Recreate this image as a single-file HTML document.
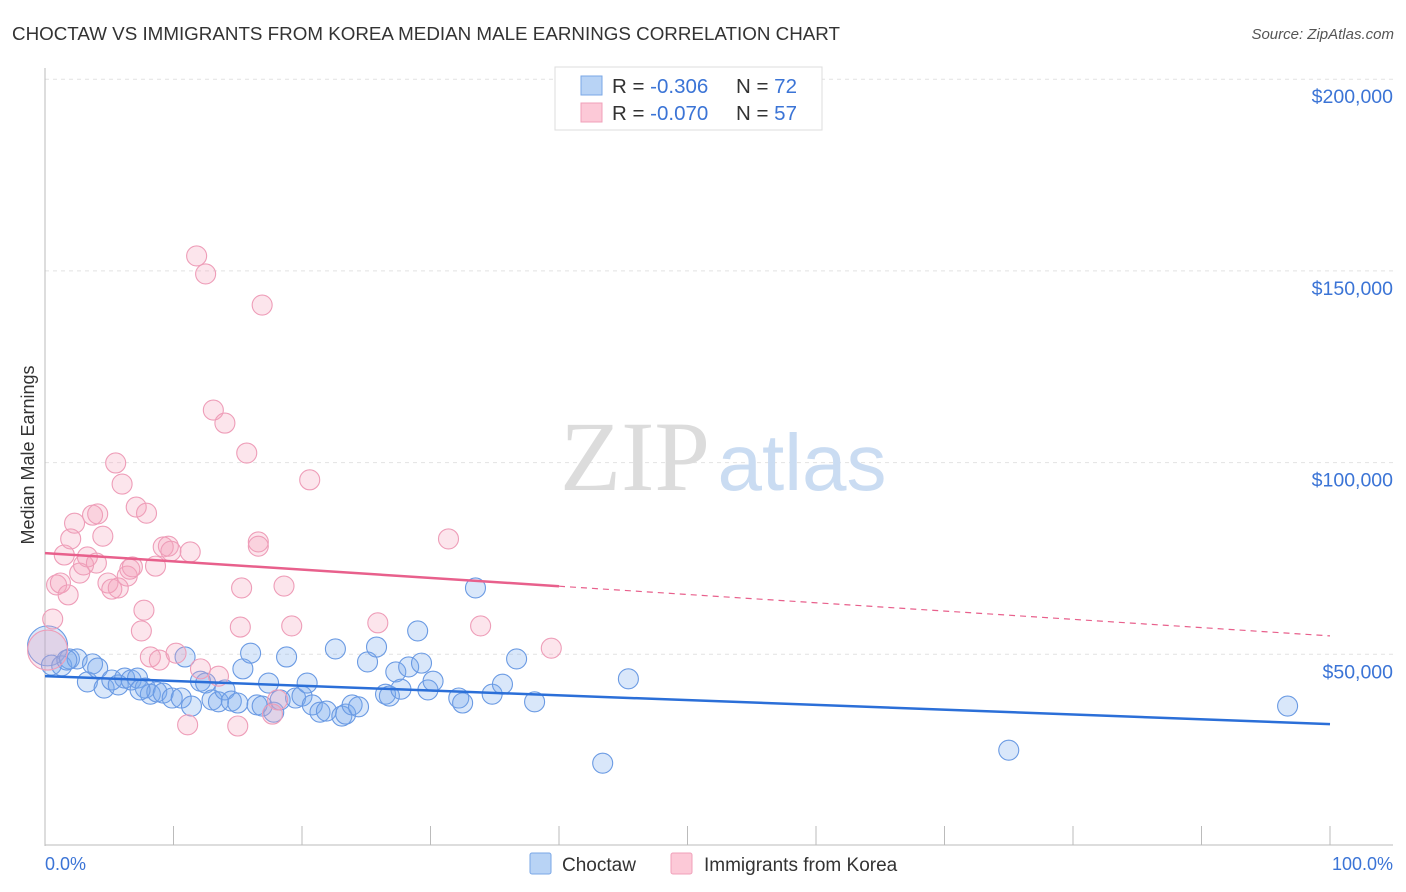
<!DOCTYPE html>
<html><head><meta charset="utf-8"><style>
body{margin:0;background:#fff;font-family:"Liberation Sans",sans-serif;}
svg{display:block}
</style></head><body>
<svg id="chart" width="1406" height="892">
<text x="12" y="40" font-size="18" fill="#333" textLength="828" lengthAdjust="spacingAndGlyphs">CHOCTAW VS IMMIGRANTS FROM KOREA MEDIAN MALE EARNINGS CORRELATION CHART</text>
<text x="1394" y="39" font-size="15" fill="#555" text-anchor="end" font-style="italic">Source: ZipAtlas.com</text>
<g id="grid"></g>
<text x="635" y="490" font-size="100" fill="#dcdcdc" text-anchor="middle" font-family="Liberation Serif,serif">ZIP</text>
<text x="802" y="490" font-size="80" fill="#cadcf2" text-anchor="middle">atlas</text>
<g id="axes"></g>
<g id="pts"></g>
<g id="trend"></g>
<text transform="translate(34,455) rotate(-90)" font-size="18" fill="#333" text-anchor="middle">Median Male Earnings</text>
<g>
<rect x="555" y="67" width="267" height="63" fill="#fff" stroke="#ddd"/>
<rect x="581" y="76" width="21" height="19" fill="#b8d3f5" stroke="#7aa7e6"/>
<rect x="581" y="103" width="21" height="19" fill="#fcc9d7" stroke="#f0a0ba"/>
<text x="612" y="93" font-size="20.5" fill="#333">R = <tspan fill="#3b74d6">-0.306</tspan></text>
<text x="736" y="93" font-size="20.5" fill="#333">N = <tspan fill="#3b74d6">72</tspan></text>
<text x="612" y="120" font-size="20.5" fill="#333">R = <tspan fill="#3b74d6">-0.070</tspan></text>
<text x="736" y="120" font-size="20.5" fill="#333">N = <tspan fill="#3b74d6">57</tspan></text>
</g>
<g>
<rect x="530" y="853" width="21" height="21" fill="#b8d3f5" stroke="#7aa7e6" rx="2"/>
<text x="562" y="871" font-size="19" fill="#333">Choctaw</text>
<rect x="671" y="853" width="21" height="21" fill="#fcc9d7" stroke="#f0a0ba" rx="2"/>
<text x="704" y="871" font-size="19" fill="#333">Immigrants from Korea</text>
</g>
<text x="45" y="870" font-size="18" fill="#3b74d6">0.0%</text>
<text x="1393" y="870" font-size="18" fill="#3b74d6" text-anchor="end">100.0%</text>
</svg>
<script>
const yTicks=[50000,100000,150000,200000];
const yTickLabels=["$50,000","$100,000","$150,000","$200,000"];
const xTicks=[0,10,20,30,40,50,60,70,80,90,100];
const choctawX=[0.2,0.5,1.3,1.9,2.5,3.3,3.7,4.1,4.6,5.2,5.7,6.2,6.7,7.2,7.8,8.2,8.7,9.2,9.9,10.6,10.9,11.4,12.1,12.5,13.0,13.5,14.0,14.5,15.0,15.4,16.0,16.5,16.9,17.4,17.8,18.3,18.8,19.5,20.0,20.4,20.8,21.4,21.9,22.6,23.1,23.4,23.9,24.4,25.1,25.8,26.5,26.8,27.3,27.7,28.3,29.0,29.3,29.8,30.2,32.2,32.5,33.5,34.8,35.6,36.7,38.1,43.4,45.4,75.0,96.7,1.7,7.4];
const choctawY=[52.2,47.2,47.0,48.8,48.8,42.8,47.5,46.4,41.2,43.3,42.0,43.8,43.3,43.8,41.2,39.6,40.2,39.9,38.6,38.6,49.3,36.5,43.0,42.5,38.1,37.6,40.7,37.8,37.3,46.2,50.3,36.8,36.5,42.5,34.9,38.1,49.3,38.6,39.1,42.5,36.8,34.9,35.2,51.4,33.9,34.4,36.8,36.3,48.0,51.9,39.6,39.1,45.4,40.9,46.7,56.1,47.7,40.7,43.0,38.6,37.3,67.3,39.6,42.2,48.8,37.6,21.6,43.6,25.0,36.5,48.5,40.7];
const koreaX=[0.2,0.6,0.9,1.2,1.5,1.8,2.0,2.3,2.7,3.0,3.3,3.7,4.0,4.1,4.5,4.9,5.2,5.5,5.7,6.0,6.4,6.6,6.8,7.1,7.5,7.7,7.9,8.2,8.6,8.9,9.2,9.6,9.8,10.2,11.1,11.3,11.8,12.1,12.5,13.1,13.5,14.0,15.0,15.3,15.2,15.7,16.6,16.6,16.9,17.7,18.1,18.6,19.2,20.6,25.9,31.4,33.9,39.4];
const koreaY=[51.1,59.2,68.1,68.6,75.9,65.5,80.1,84.2,71.2,73.3,75.4,86.3,73.8,86.6,80.8,68.6,67.0,99.9,67.3,94.4,70.4,72.2,72.8,88.4,56.1,61.5,86.8,49.3,73.0,48.5,78.0,78.2,76.9,50.3,31.6,76.7,153.9,46.2,149.2,113.7,44.3,110.3,31.3,67.3,57.1,102.5,79.3,78.2,141.1,34.4,38.1,67.8,57.4,95.5,58.2,80.1,57.4,51.6];
const choctawTrend=[44.3,31.8];
const koreaTrend=[76.4,54.8];
const koreaSolidEnd=40;
const NS='http://www.w3.org/2000/svg';
const X=p=>45+p*12.85;
const Y=v=>846-v/50000*191.7;
function mk(t,a,p){const e=document.createElementNS(NS,t);for(const k in a)e.setAttribute(k,a[k]);p.appendChild(e);return e;}
const grid=document.getElementById('grid'),axes=document.getElementById('axes'),pts=document.getElementById('pts'),trend=document.getElementById('trend');
yTicks.forEach((v,i)=>{
 const l=mk('line',{x1:45,x2:1393,y1:Y(v),y2:Y(v),stroke:'#e2e2e2','stroke-dasharray':'4,4'},grid);
 
 
 const t=mk('text',{x:1393,y:Y(v)+24,'font-size':19.5,fill:'#3b74d6','text-anchor':'end'},axes);
 t.textContent=yTickLabels[i];
 
 
});
mk('line',{x1:45,x2:45,y1:68,y2:846,stroke:'#bbb'},axes);
mk('line',{x1:45,x2:1393,y1:845,y2:845,stroke:'#bbb'},axes);
xTicks.forEach(p=>{
 const l=mk('line',{x1:X(p),x2:X(p),y1:826,y2:845,stroke:'#bbb'},axes);
 
 
});
function draw(xs,ys,fill,stroke,name){
 xs.forEach((p,i)=>{
  const r=(i===0)?20:10;
  const c=mk('circle',{cx:X(p),cy:Y(ys[i]*1000),r:r,fill:fill,stroke:stroke,'stroke-width':1.1},pts);
  
  
 });
}
draw(choctawX,choctawY,'rgba(120,168,238,0.28)','#6a9ae3','choctaw-point');
draw(koreaX,koreaY,'rgba(246,160,188,0.28)','#ee9db8','korea-point');
const bt=mk('line',{x1:X(0),y1:Y(choctawTrend[0]*1000),x2:X(100),y2:Y(choctawTrend[1]*1000),stroke:'#2b6fd8','stroke-width':2.5},trend);


const kAt=p=>koreaTrend[0]+(koreaTrend[1]-koreaTrend[0])*p/100;
const kt=mk('line',{x1:X(0),y1:Y(kAt(0)*1000),x2:X(koreaSolidEnd),y2:Y(kAt(koreaSolidEnd)*1000),stroke:'#e8608c','stroke-width':2.5},trend);


const kd=mk('line',{x1:X(koreaSolidEnd),y1:Y(kAt(koreaSolidEnd)*1000),x2:X(100),y2:Y(kAt(100)*1000),stroke:'#e8608c','stroke-width':1.2,'stroke-dasharray':'6,5'},trend);


</script>
</body></html>
